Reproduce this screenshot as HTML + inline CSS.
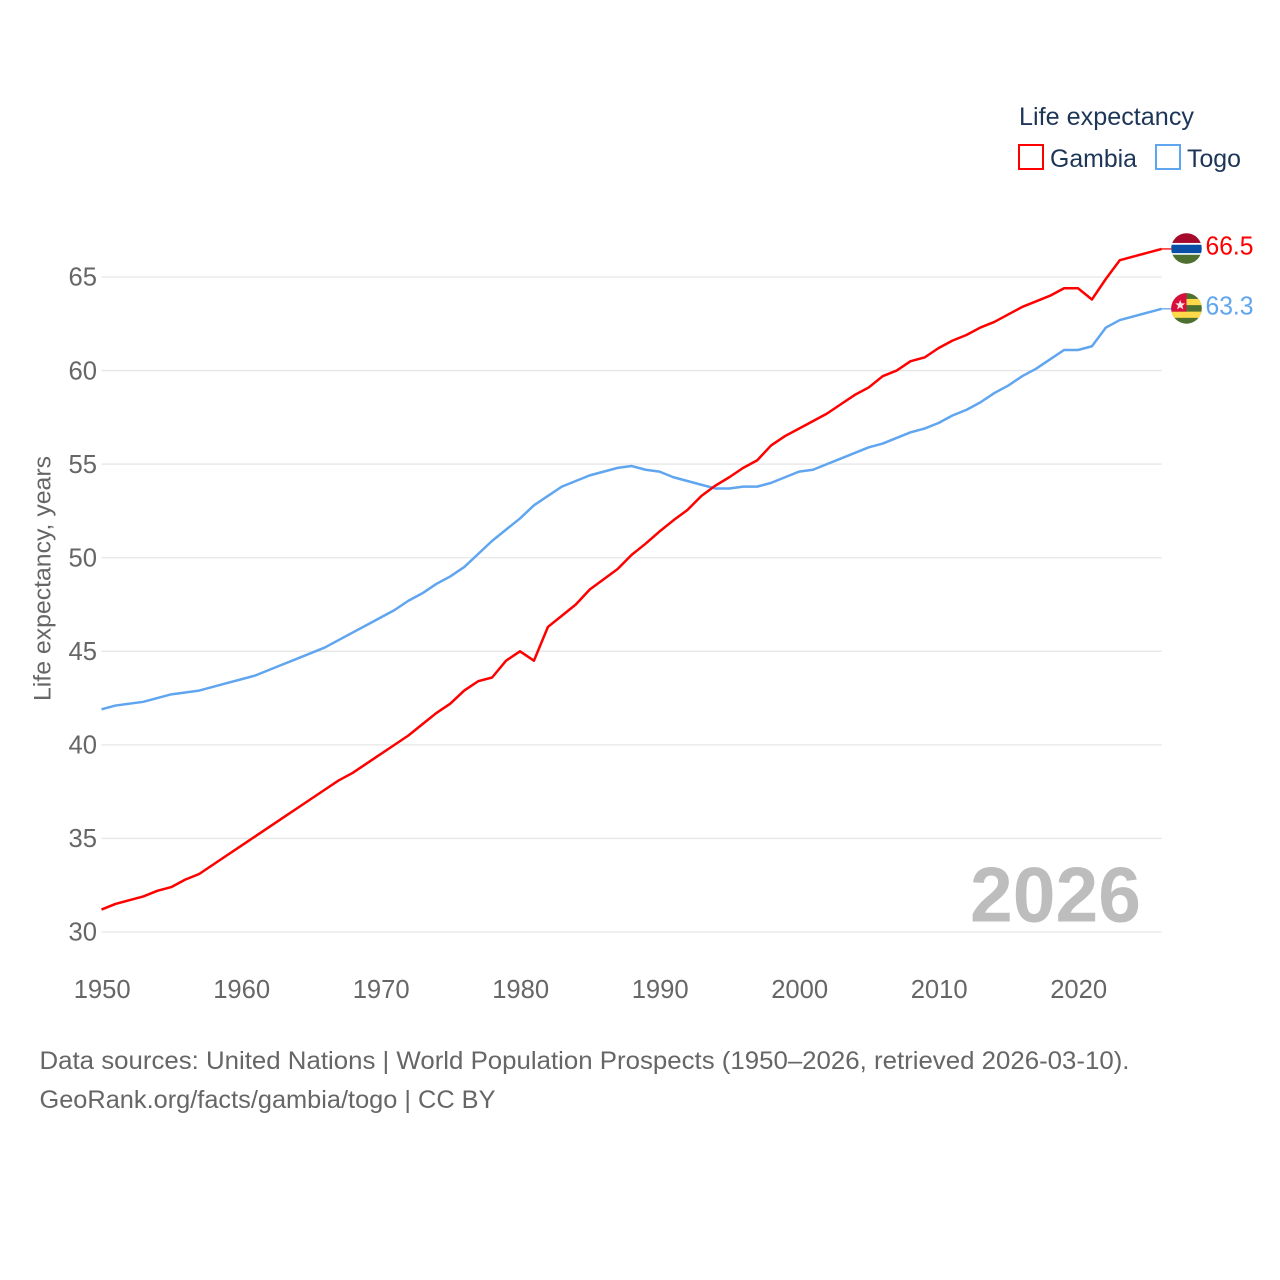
<!DOCTYPE html>
<html lang="en">
<head>
<meta charset="utf-8">
<title>Life expectancy: Gambia and Togo</title>
<style>
html,body{margin:0;padding:0;background:#fff;}
svg{display:block;font-family:"Liberation Sans",Arial,sans-serif;}
</style>
</head>
<body>
<svg id="chart" xmlns="http://www.w3.org/2000/svg" width="1280" height="1280" viewBox="0 0 1280 1280">
  <rect width="1280" height="1280" fill="#fff"/>
  <defs>
    <clipPath id="flag-clip"><circle cx="0" cy="0" r="15.3"/></clipPath>
  </defs>
  <g id="grid"></g>
  <g id="yticks"></g>
  <g id="xticks"></g>
  <text transform="translate(50.5,701) rotate(-90)" font-size="24" fill="#666" textLength="245" lengthAdjust="spacingAndGlyphs">Life expectancy, years</text>
  <text x="970" y="921.5" font-size="78" font-weight="700" fill="#bdbdbd" textLength="171" lengthAdjust="spacingAndGlyphs">2026</text>
  <g id="series"></g>

  <g id="flag-gambia">
    <g clip-path="url(#flag-clip)">
      <rect x="-16" y="-16" width="32" height="32" fill="#fff"/>
      <rect x="-16" y="-16" width="32" height="10.4" fill="#a50a2c"/>
      <rect x="-16" y="-3.8" width="32" height="8.4" fill="#0a4fa6"/>
      <rect x="-16" y="6.2" width="32" height="10" fill="#4d7030"/>
    </g>
  </g>
  <g id="flag-togo">
    <g clip-path="url(#flag-clip)">
      <rect x="-16" y="-16" width="32" height="32" fill="#4d7030"/>
      <rect x="-16" y="-9.5" width="32" height="6.2" fill="#ffd94a"/>
      <rect x="-16" y="3.2" width="32" height="6.2" fill="#ffd94a"/>
      <rect x="-16" y="-16" width="16" height="19.2" fill="#d80f3c"/>
      <polygon points="-6.3,-8.5 -5,-5 -1.4,-5 -4.2,-2.7 -3.2,1 -6.3,-1.2 -9.4,1 -8.4,-2.7 -11.2,-5 -7.6,-5" fill="#f4e6e6"/>
    </g>
  </g>
  <g id="value-labels"></g>

  <g>
    <text x="1019" y="125" font-size="25" fill="#1d3557" textLength="175" lengthAdjust="spacingAndGlyphs">Life expectancy</text>
    <g>
      <rect x="1019" y="145" width="24" height="24" fill="#fff" stroke="#ff0000" stroke-width="2"/>
      <text x="1050" y="167" font-size="25" fill="#1d3557" textLength="87" lengthAdjust="spacingAndGlyphs">Gambia</text>
    </g>
    <g>
      <rect x="1156" y="145" width="24" height="24" fill="#fff" stroke="#60a5ef" stroke-width="2"/>
      <text x="1187" y="167" font-size="25" fill="#1d3557" textLength="54" lengthAdjust="spacingAndGlyphs">Togo</text>
    </g>
  </g>

  <g>
    <text x="39.5" y="1069" font-size="25" fill="#666" textLength="1090" lengthAdjust="spacingAndGlyphs">Data sources: United Nations | World Population Prospects (1950–2026, retrieved 2026-03-10).</text>
    <text x="39.5" y="1108" font-size="25" fill="#666" textLength="456" lengthAdjust="spacingAndGlyphs">GeoRank.org/facts/gambia/togo | CC BY</text>
  </g>
</svg>
<script>
const startYear = 1950;
const gambiaValues = [31.2,31.5,31.7,31.9,32.2,32.4,32.8,33.1,33.6,34.1,34.6,35.1,35.6,36.1,36.6,37.1,37.6,38.1,38.5,39.0,39.5,40.0,40.5,41.1,41.7,42.2,42.9,43.4,43.6,44.5,45.0,44.5,46.3,46.9,47.5,48.3,48.85,49.4,50.15,50.75,51.4,52.0,52.55,53.3,53.85,54.3,54.8,55.2,56.0,56.5,56.9,57.3,57.7,58.2,58.7,59.1,59.7,60.0,60.5,60.7,61.2,61.6,61.9,62.3,62.6,63.0,63.4,63.7,64.0,64.4,64.4,63.8,64.9,65.9,66.1,66.3,66.5];
const togoValues = [41.9,42.1,42.2,42.3,42.5,42.7,42.8,42.9,43.1,43.3,43.5,43.7,44.0,44.3,44.6,44.9,45.2,45.6,46.0,46.4,46.8,47.2,47.7,48.1,48.6,49.0,49.5,50.2,50.9,51.5,52.1,52.8,53.3,53.8,54.1,54.4,54.6,54.8,54.9,54.7,54.6,54.3,54.1,53.9,53.7,53.7,53.8,53.8,54.0,54.3,54.6,54.7,55.0,55.3,55.6,55.9,56.1,56.4,56.7,56.9,57.2,57.6,57.9,58.3,58.8,59.2,59.7,60.1,60.6,61.1,61.1,61.3,62.3,62.7,62.9,63.1,63.3];
const yTickValues = [30,35,40,45,50,55,60,65];
const xTickYears = [1950,1960,1970,1980,1990,2000,2010,2020];

const NS = 'http://www.w3.org/2000/svg';
const xScale = function (year) { return 101.5 + (year - 1950) * 13.95; };
const yScale = function (value) { return 932 - (value - 30) * 18.714; };
const lastYear = startYear + gambiaValues.length - 1;

function make(tag, attrs, parent) {
  const el = document.createElementNS(NS, tag);
  for (const k in attrs) el.setAttribute(k, attrs[k]);
  parent.appendChild(el);
  return el;
}

const gridG = document.getElementById('grid');
const yTicksG = document.getElementById('yticks');
const xTicksG = document.getElementById('xticks');
const seriesG = document.getElementById('series');
const labelsG = document.getElementById('value-labels');

yTickValues.forEach(function (v) {
  const line = make('line', {x1: 101.5, x2: xScale(lastYear), y1: yScale(v), y2: yScale(v), stroke: '#e6e6e6', 'stroke-width': 1.3}, gridG);
  
  
  const label = make('text', {x: 97, y: yScale(v) + 8.7, 'text-anchor': 'end', 'font-size': 26, fill: '#666', textLength: 28.5, lengthAdjust: 'spacingAndGlyphs'}, yTicksG);
  
  
  label.textContent = v;
});

xTickYears.forEach(function (yr) {
  const label = make('text', {x: xScale(yr) - 27.8, y: 998, 'font-size': 26, fill: '#666', textLength: 57, lengthAdjust: 'spacingAndGlyphs'}, xTicksG);
  
  
  label.textContent = yr;
});

function pathFor(values) {
  return values.map(function (v, i) {
    return (i ? 'L' : 'M') + xScale(startYear + i).toFixed(2) + ' ' + yScale(v).toFixed(2);
  }).join(' ');
}

const togoLine = make('path', {d: pathFor(togoValues), fill: 'none', stroke: '#60a5ef', 'stroke-width': 2.5, 'stroke-linejoin': 'round'}, seriesG);



const gambiaLine = make('path', {d: pathFor(gambiaValues), fill: 'none', stroke: '#ff0000', 'stroke-width': 2.5, 'stroke-linejoin': 'round'}, seriesG);



const gambiaEnd = gambiaValues[gambiaValues.length - 1];
const togoEnd = togoValues[togoValues.length - 1];
const endX = xScale(lastYear);

const gambiaConnector = make('line', {x1: endX, x2: endX + 11, y1: yScale(gambiaEnd), y2: yScale(gambiaEnd), stroke: '#ff0000', 'stroke-width': 1.3}, seriesG);



const togoConnector = make('line', {x1: endX, x2: endX + 11, y1: yScale(togoEnd), y2: yScale(togoEnd), stroke: '#60a5ef', 'stroke-width': 1.3}, seriesG);



document.getElementById('flag-gambia').setAttribute('transform', 'translate(1186.5,' + (yScale(gambiaEnd) - 0.4) + ')');
document.getElementById('flag-togo').setAttribute('transform', 'translate(1186.5,' + (yScale(togoEnd) - 0.4) + ')');

const gambiaLabel = make('text', {x: 1205.5, y: yScale(gambiaEnd) + 5.5, 'font-size': 26, fill: '#ff0000', textLength: 48, lengthAdjust: 'spacingAndGlyphs'}, labelsG);


gambiaLabel.textContent = gambiaEnd.toFixed(1);

const togoLabel = make('text', {x: 1205.5, y: yScale(togoEnd) + 5.5, 'font-size': 26, fill: '#60a5ef', textLength: 48, lengthAdjust: 'spacingAndGlyphs'}, labelsG);


togoLabel.textContent = togoEnd.toFixed(1);
</script>
</body>
</html>
